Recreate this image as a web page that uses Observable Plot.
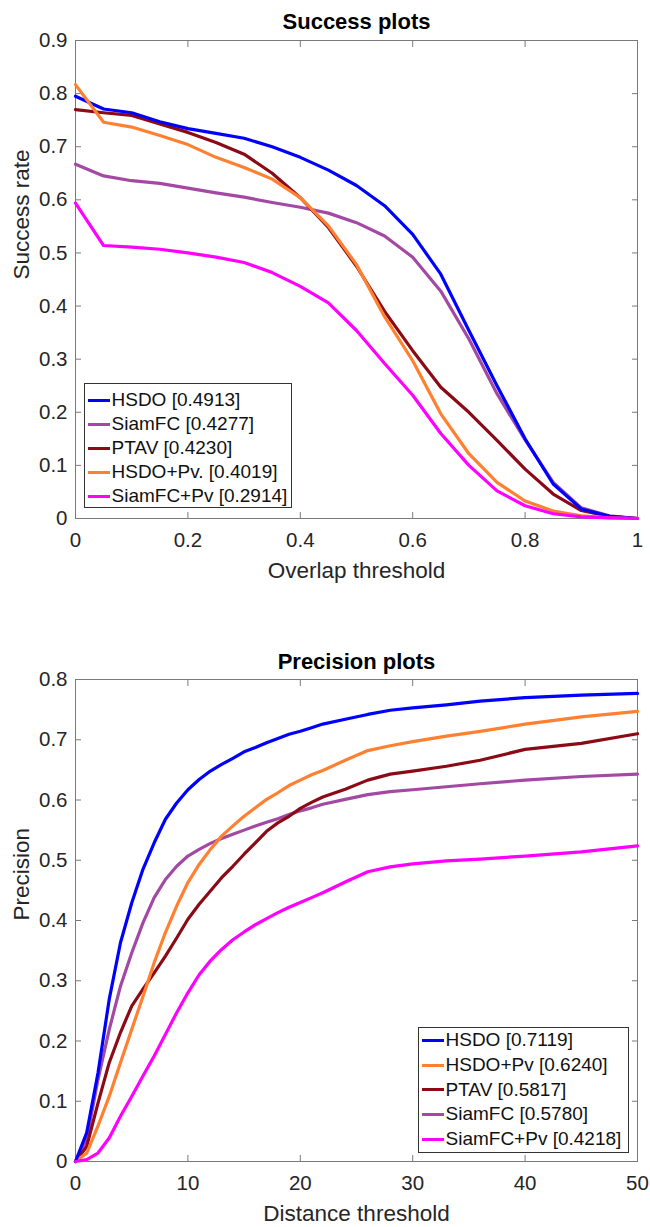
<!DOCTYPE html>
<html><head><meta charset="utf-8">
<script src="https://cdn.jsdelivr.net/npm/d3@7"></script>
<script src="https://cdn.jsdelivr.net/npm/@observablehq/plot@0.6"></script>
<style>
body{margin:0;background:#fff;font-family:"Liberation Sans",Arial,sans-serif;}
#wrap{position:relative;width:650px;height:1227px;overflow:hidden;}
#wrap svg{display:block;}
.legend{position:absolute;box-sizing:border-box;border:1px solid #333;background:#fff;font-size:19px;color:#111;}
.row{display:flex;align-items:center;white-space:nowrap;}
.sw{width:22px;height:3px;margin-right:2px;flex:none;}
</style></head><body><div id="wrap"></div>
<script>
// ---------- Success plot data ----------
const overlap = [0,0.05,0.1,0.15,0.2,0.25,0.3,0.35,0.4,0.45,0.5,0.55,0.6,0.65,0.7,0.75,0.8,0.85,0.9,0.95,1];
const succHSDO     = [0.795,0.771,0.764,0.747,0.734,0.725,0.716,0.700,0.680,0.656,0.627,0.589,0.535,0.460,0.354,0.250,0.150,0.065,0.018,0.004,0];
const succSiamFC   = [0.667,0.645,0.636,0.631,0.622,0.613,0.605,0.595,0.586,0.575,0.557,0.532,0.492,0.428,0.338,0.235,0.148,0.068,0.020,0.005,0];
const succPTAV     = [0.770,0.764,0.759,0.743,0.727,0.708,0.686,0.650,0.604,0.548,0.475,0.390,0.316,0.247,0.200,0.147,0.093,0.046,0.015,0.004,0];
const succHSDOPv   = [0.817,0.746,0.737,0.721,0.704,0.680,0.661,0.639,0.604,0.551,0.478,0.380,0.297,0.197,0.122,0.068,0.033,0.014,0.005,0.001,0];
const succSiamFCPv = [0.594,0.514,0.511,0.507,0.500,0.492,0.482,0.463,0.437,0.406,0.354,0.292,0.232,0.160,0.100,0.052,0.024,0.009,0.003,0.001,0];
const succNames  = ["HSDO","SiamFC","PTAV","HSDO+Pv.","SiamFC+Pv"];
const succScores = ["0.4913","0.4277","0.4230","0.4019","0.2914"];
const succColors = ["#0000ff","#a349a4","#8b0a16","#ff8030","#ff00ff"];
const succXTicks = [0,0.2,0.4,0.6,0.8,1];
const succYTicks = [0,0.1,0.2,0.3,0.4,0.5,0.6,0.7,0.8,0.9];

// ---------- Precision plot data ----------
const dist = [0,1,2,3,4,5,6,7,8,9,10,11,12,13,14,15,16,17,18,19,20,21,22,24,26,28,30,33,36,40,45,50];
const precHSDO     = [0,0.048,0.147,0.269,0.363,0.429,0.485,0.529,0.568,0.595,0.617,0.634,0.648,0.659,0.669,0.680,0.687,0.695,0.702,0.709,0.714,0.720,0.726,0.734,0.742,0.749,0.753,0.758,0.764,0.770,0.774,0.777];
const precHSDOPv   = [0,0.014,0.059,0.108,0.164,0.219,0.274,0.330,0.380,0.424,0.463,0.493,0.518,0.540,0.557,0.573,0.587,0.601,0.612,0.624,0.633,0.642,0.649,0.666,0.682,0.690,0.697,0.706,0.714,0.726,0.738,0.747];
const precPTAV     = [0,0.025,0.097,0.164,0.214,0.258,0.286,0.313,0.341,0.371,0.402,0.427,0.449,0.471,0.490,0.510,0.529,0.548,0.562,0.573,0.586,0.596,0.605,0.618,0.633,0.643,0.648,0.656,0.666,0.684,0.694,0.710];
const precSiamFC   = [0,0.037,0.136,0.219,0.291,0.346,0.396,0.438,0.468,0.490,0.507,0.518,0.528,0.536,0.543,0.550,0.557,0.563,0.569,0.576,0.582,0.587,0.593,0.601,0.609,0.614,0.617,0.622,0.627,0.633,0.639,0.643];
const precSiamFCPv = [0,0.003,0.014,0.039,0.075,0.108,0.142,0.175,0.211,0.247,0.280,0.310,0.333,0.352,0.368,0.381,0.393,0.403,0.413,0.422,0.430,0.438,0.446,0.464,0.481,0.489,0.494,0.499,0.502,0.507,0.514,0.524];
const precNames  = ["HSDO","HSDO+Pv","PTAV","SiamFC","SiamFC+Pv"];
const precScores = ["0.7119","0.6240","0.5817","0.5780","0.4218"];
const precColors = ["#0000ff","#ff8030","#8b0a16","#a349a4","#ff00ff"];
const precXTicks = [0,10,20,30,40,50];
const precYTicks = [0,0.1,0.2,0.3,0.4,0.5,0.6,0.7,0.8];

function flatten(xs, names, series) {
  const out = [];
  names.forEach((n, i) => xs.forEach((x, j) => out.push({x, y: series[i][j], s: n})));
  return out;
}
const succData = flatten(overlap, succNames, [succHSDO, succSiamFC, succPTAV, succHSDOPv, succSiamFCPv]);
const precData = flatten(dist, precNames, [precHSDO, precHSDOPv, precPTAV, precSiamFC, precSiamFCPv]);

const FRAME = "#7a7a7a", TXT = "#262626";
const fmt = d => d === 0 ? "0" : String(+d.toFixed(2));

function chart({data, names, colors, xDomain, yDomain, xTicks, yTicks, height, mt, mb, title, titleDy, xLabelDy, xLabel, yLabel, order}) {
  const drawOrder = order.map(i => names[i]);
  return Plot.plot({
    width: 650, height,
    marginLeft: 75, marginRight: 13, marginTop: mt, marginBottom: mb,
    style: {fontFamily: "Liberation Sans, Arial, sans-serif", fontSize: "20px", color: TXT, background: "white"},
    x: {domain: xDomain},
    y: {domain: yDomain},
    color: {domain: names, range: colors},
    marks: [
      Plot.frame({stroke: FRAME, strokeWidth: 1}),
      Plot.axisX({ticks: xTicks, anchor: "bottom", tickSize: -6, tickFormat: () => "", stroke: FRAME, label: null}),
      Plot.axisX({ticks: xTicks, anchor: "top", tickSize: -6, tickFormat: () => "", stroke: FRAME, label: null}),
      Plot.axisY({ticks: yTicks, anchor: "left", tickSize: -6, tickFormat: () => "", stroke: FRAME, label: null}),
      Plot.axisY({ticks: yTicks, anchor: "right", tickSize: -6, tickFormat: () => "", stroke: FRAME, label: null}),
      Plot.axisX({ticks: xTicks, anchor: "bottom", tickSize: 0, tickPadding: 14, tickFormat: fmt, fontSize: 20.5, fill: TXT, label: null}),
      Plot.axisY({ticks: yTicks, anchor: "left", tickSize: 0, tickPadding: 8, tickFormat: fmt, fontSize: 20.5, fill: TXT, label: null}),
      ...drawOrder.map(n => Plot.line(data.filter(d => d.s === n), {x: "x", y: "y", stroke: "s", strokeWidth: 3.2, strokeLinejoin: "round"})),
      Plot.text([title], {text: d => d, frameAnchor: "top", lineAnchor: "middle", dy: titleDy, fontSize: 22, fontWeight: "bold", fill: "#000"}),
      Plot.text([xLabel], {text: d => d, frameAnchor: "bottom", lineAnchor: "middle", dy: xLabelDy, fontSize: 22.5, fill: TXT}),
      Plot.text([yLabel], {text: d => d, frameAnchor: "left", lineAnchor: "middle", dx: -54, rotate: -90, fontSize: 22.5, fill: TXT})
    ]
  });
}

const wrap = document.getElementById("wrap");
wrap.appendChild(chart({
  data: succData, names: succNames, colors: succColors,
  xDomain: [0, 1], yDomain: [0, 0.9], xTicks: succXTicks, yTicks: succYTicks,
  height: 600, mt: 40, mb: 82, title: "Success plots", titleDy: -19, xLabelDy: 52,
  xLabel: "Overlap threshold", yLabel: "Success rate", order: [1, 2, 0, 3, 4]
}));
wrap.appendChild(chart({
  data: precData, names: precNames, colors: precColors,
  xDomain: [0, 50], yDomain: [0, 0.8], xTicks: precXTicks, yTicks: precYTicks,
  height: 627, mt: 79, mb: 66, title: "Precision plots", titleDy: -18, xLabelDy: 52,
  xLabel: "Distance threshold", yLabel: "Precision", order: [3, 2, 1, 0, 4]
}));

function legend(names, scores, colors, left, top, width, height, padTop, rowH, swOff) {
  const div = document.createElement("div");
  div.className = "legend";
  Object.assign(div.style, {left: left + "px", top: top + "px", width: width + "px", height: height + "px", paddingTop: padTop + "px", paddingLeft: swOff + "px"});
  names.forEach((n, i) => {
    const r = document.createElement("div");
    r.className = "row";
    r.style.height = rowH + "px";
    const sw = document.createElement("span");
    sw.className = "sw";
    sw.style.background = colors[i];
    const t = document.createElement("span");
    t.textContent = `${n} [${scores[i]}]`;
    r.appendChild(sw); r.appendChild(t);
    div.appendChild(r);
  });
  wrap.appendChild(div);
}
legend(succNames, succScores, succColors, 84, 383, 208, 125, 4, 24, 2.5);
legend(precNames, precScores, precColors, 418, 1027, 211, 126, 0, 24.7, 2.5);
</script></body></html>
